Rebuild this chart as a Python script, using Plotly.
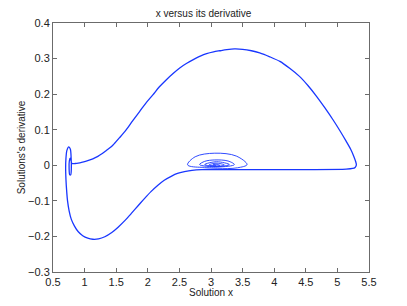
import plotly.graph_objects as go

# Small spiral around the equilibrium near x ~ 3.08 (outward, clockwise)
spiral_x = [3.08, 3.03, 3.08, 3.14, 3.08,
            2.97, 3.08, 3.21, 3.09,
            2.90, 3.09, 3.29, 3.10,
            2.82, 2.90, 3.06, 3.27, 3.37, 3.10,
            2.63, 2.75, 3.06, 3.40, 3.57, 3.42, 3.10, 2.85]
spiral_y = [0.000, 0.001, 0.003, 0.000, -0.002,
            0.001, 0.006, 0.001, -0.003,
            0.002, 0.010, 0.002, -0.004,
            0.002, 0.011, 0.015, 0.012, 0.002, -0.005,
            0.001, 0.024, 0.034, 0.026, 0.002, -0.007, -0.010, -0.012]

# Main closed orbit (lower branch -> left spiral -> big arc -> bottom line)
orbit_x = [2.85, 2.70, 2.58, 2.47, 2.37, 2.26, 2.16, 2.05, 1.95, 1.85, 1.74,
           1.64, 1.53, 1.43, 1.32, 1.22, 1.13, 1.05, 0.97, 0.90, 0.84, 0.79,
           0.755, 0.73, 0.715, 0.705, 0.70, 0.705, 0.72, 0.75, 0.775, 0.787,
           0.79, 0.78, 0.765, 0.755, 0.758, 0.772, 0.787, 0.80, 0.85, 0.90,
           0.97, 1.05, 1.13, 1.21, 1.28, 1.34, 1.40, 1.45, 1.55, 1.66, 1.76,
           1.87, 1.97, 2.08, 2.18, 2.29, 2.40, 2.50, 2.61, 2.72, 2.83, 2.93,
           3.04, 3.14, 3.25, 3.37, 3.50, 3.64, 3.77, 3.93, 4.09, 4.25, 4.40,
           4.54, 4.67, 4.80, 4.93, 5.04, 5.14, 5.21, 5.26, 5.29, 5.30, 5.28,
           5.24, 5.14, 4.50, 3.80, 3.20, 2.85]
orbit_y = [-0.012, -0.014, -0.018, -0.023, -0.031, -0.042, -0.056, -0.074,
           -0.093, -0.113, -0.135, -0.155, -0.174, -0.189, -0.201, -0.207,
           -0.208, -0.205, -0.198, -0.187, -0.171, -0.152, -0.128, -0.100,
           -0.069, -0.040, -0.010, 0.020, 0.042, 0.052, 0.045, 0.020, -0.010,
           -0.027, -0.027, -0.010, 0.012, 0.020, 0.012, 0.005, 0.005, 0.006,
           0.009, 0.013, 0.018, 0.025, 0.033, 0.041, 0.049, 0.057, 0.077,
           0.100, 0.125, 0.151, 0.175, 0.198, 0.220, 0.240, 0.258, 0.273,
           0.286, 0.297, 0.307, 0.314, 0.319, 0.322, 0.325, 0.327, 0.326,
           0.322, 0.316, 0.305, 0.292, 0.272, 0.250, 0.223, 0.194, 0.162,
           0.128, 0.097, 0.067, 0.045, 0.025, 0.010, 0.001, -0.006, -0.009,
           -0.011, -0.012, -0.012, -0.012, -0.012]

x_tickvals = [0.5, 1, 1.5, 2, 2.5, 3, 3.5, 4, 4.5, 5, 5.5]
x_ticktext = ["0.5", "1", "1.5", "2", "2.5", "3", "3.5", "4", "4.5", "5", "5.5"]
y_tickvals = [-0.3, -0.2, -0.1, 0, 0.1, 0.2, 0.3, 0.4]
y_ticktext = ["\u22120.3", "\u22120.2", "\u22120.1", "0", "0.1", "0.2", "0.3", "0.4"]

blue = "rgb(25,55,255)"
fig = go.Figure()
fig.add_trace(go.Scatter(x=spiral_x, y=spiral_y, mode="lines",
                         line=dict(color=blue, width=0.9, shape="spline", smoothing=1.0),
                         hoverinfo="skip"))
fig.add_trace(go.Scatter(x=orbit_x, y=orbit_y, mode="lines",
                         line=dict(color=blue, width=1.3, shape="spline", smoothing=0.8),
                         hoverinfo="skip"))

font = "Liberation Sans, Arial, Helvetica, sans-serif"
axis_common = dict(showgrid=False, zeroline=False, showline=True, linecolor="#6b6b6b",
                   linewidth=1, mirror="ticks", ticks="inside", ticklen=4,
                   tickcolor="#6b6b6b", tickwidth=1,
                   tickfont=dict(family=font, size=11, color="#222"))
# page has an 8px body margin, so the figure is 391x290 and offsets are reduced by 8
W, H = 391, 290
fig.update_layout(
    width=W, height=H,
    margin=dict(l=45, r=30, t=15, b=26, autoexpand=False),
    paper_bgcolor="white", plot_bgcolor="white",
    showlegend=False,
    title=dict(text="x versus its derivative", x=0.5, xanchor="center",
               y=1 - 5 / H, yanchor="middle",
               font=dict(family=font, size=10, color="#222")),
    xaxis=dict(range=[0.5, 5.5], tickvals=x_tickvals, ticktext=x_ticktext,
               title=dict(text="Solution x", standoff=5,
                          font=dict(family=font, size=10, color="#222")),
               automargin=False, **axis_common),
    yaxis=dict(range=[-0.3, 0.4], tickvals=y_tickvals, ticktext=y_ticktext,
               title=dict(text="Solutions's derivative", standoff=0,
                          font=dict(family=font, size=10, color="#222")),
               automargin=False, **axis_common),
)
fig.write_html("out.html")
